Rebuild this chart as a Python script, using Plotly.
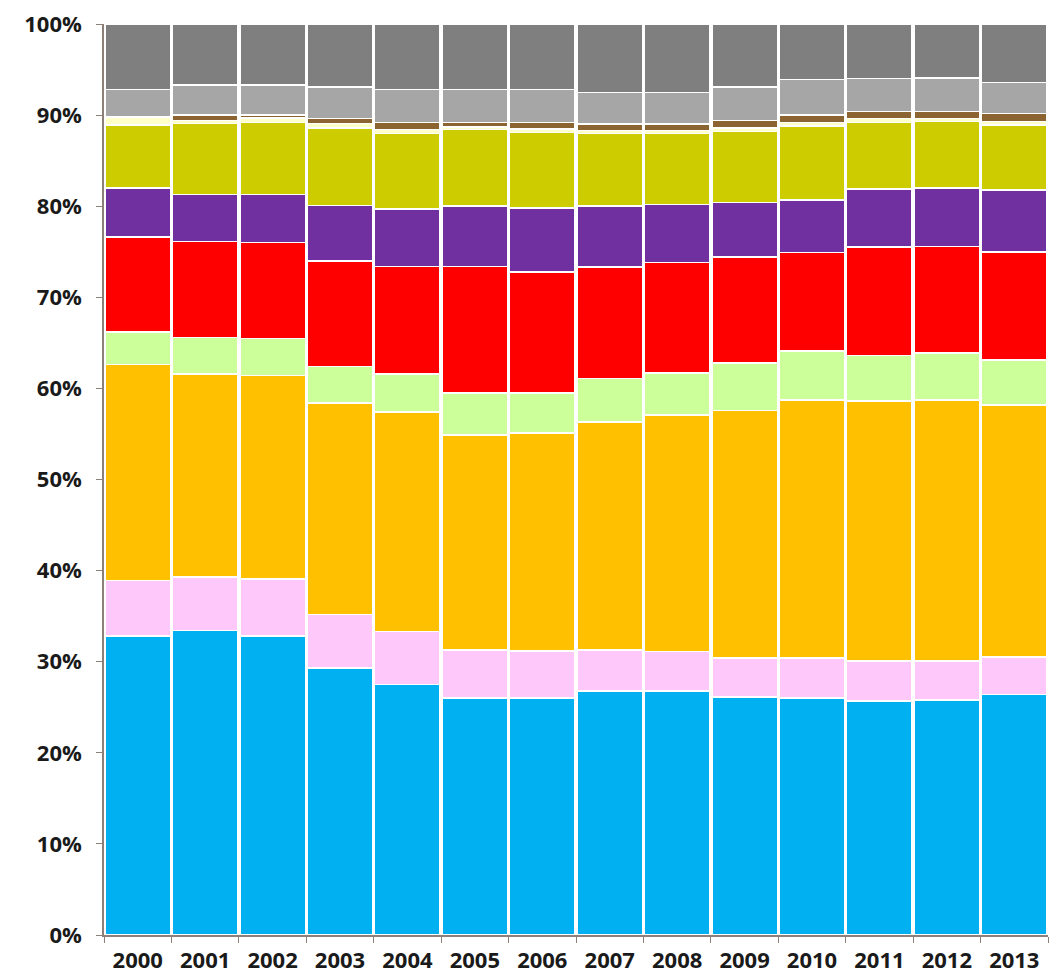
import plotly.graph_objects as go

years = [str(y) for y in range(2000, 2014)]

blue   = [32.8, 33.4, 32.8, 29.3, 27.5, 26.0, 26.0, 26.8, 26.8, 26.1, 26.0, 25.7, 25.8, 26.4]
pink   = [6.1, 5.9, 6.3, 5.9, 5.8, 5.3, 5.2, 4.5, 4.3, 4.3, 4.4, 4.4, 4.3, 4.1]
orange = [23.7, 22.3, 22.3, 23.2, 24.1, 23.6, 23.9, 25.0, 26.0, 27.2, 28.3, 28.5, 28.6, 27.7]
lgreen = [3.6, 4.0, 4.1, 4.0, 4.2, 4.6, 4.4, 4.8, 4.6, 5.2, 5.4, 5.0, 5.2, 4.9]
red    = [10.4, 10.5, 10.5, 11.6, 11.8, 13.9, 13.3, 12.2, 12.1, 11.6, 10.8, 11.9, 11.7, 11.9]
purple = [5.4, 5.2, 5.3, 6.1, 6.3, 6.6, 7.0, 6.7, 6.4, 6.0, 5.8, 6.4, 6.4, 6.8]
olive  = [6.9, 7.8, 7.9, 8.5, 8.3, 8.4, 8.3, 8.0, 7.8, 7.8, 8.1, 7.3, 7.3, 7.1]
cream  = [0.9, 0.3, 0.5, 0.5, 0.4, 0.3, 0.4, 0.3, 0.3, 0.4, 0.4, 0.4, 0.3, 0.4]
brown  = [0.0, 0.6, 0.3, 0.5, 0.8, 0.5, 0.7, 0.7, 0.7, 0.8, 0.8, 0.8, 0.8, 0.9]
lgray  = [3.0, 3.3, 3.3, 3.5, 3.6, 3.6, 3.6, 3.5, 3.5, 3.7, 3.9, 3.6, 3.7, 3.4]
dgray  = [7.2, 6.7, 6.7, 6.9, 7.2, 7.2, 7.2, 7.5, 7.5, 6.9, 6.1, 6.0, 5.9, 6.4]

series = [
    ("blue", blue, "#00B0F0"),
    ("pink", pink, "#FFC8FA"),
    ("orange", orange, "#FFC000"),
    ("lgreen", lgreen, "#CCFF99"),
    ("red", red, "#FF0000"),
    ("purple", purple, "#7030A0"),
    ("olive", olive, "#CCCC00"),
    ("cream", cream, "#FFFFC8"),
    ("brown", brown, "#8B6432"),
    ("lgray", lgray, "#A6A6A6"),
    ("dgray", dgray, "#7F7F7F"),
]

fig = go.Figure()
for name, vals, col in series:
    fig.add_trace(go.Bar(
        x=years, y=vals, name=name,
        marker=dict(color=col, line=dict(color="white", width=1.5)),
        hoverinfo="skip",
    ))

axis_col = "#8C8078"
tick_font = dict(family="Open Sans", size=22, color="#1a1a1a", weight="bold")
fig.update_layout(
    barmode="stack",
    bargap=0.03,
    width=1049, height=980,
    margin=dict(l=104, r=1, t=24, b=45),
    plot_bgcolor="white",
    paper_bgcolor="white",
    showlegend=False,
    font=dict(family="Open Sans", size=22, color="#1a1a1a"),
    xaxis=dict(
        type="category",
        automargin=False,
        showline=True, linecolor=axis_col, linewidth=1.5,
        ticks="outside", tickson="boundaries", ticklen=6, tickcolor=axis_col,
        tickfont=tick_font,
        ticklabelstandoff=5,
        showgrid=False,
        range=[-0.5, 13.5],
    ),
    yaxis=dict(
        range=[0, 100],
        automargin=False,
        tickvals=[0, 10, 20, 30, 40, 50, 60, 70, 80, 90, 100],
        ticktext=[f"{v}%" for v in range(0, 101, 10)],
        showline=True, linecolor=axis_col, linewidth=1.5,
        ticks="outside", ticklen=6, tickcolor=axis_col,
        tickfont=tick_font,
        ticklabelstandoff=10,
        showgrid=False, zeroline=False,
    ),
)

fig.write_html(
    "out.html",
    config={"displayModeBar": False},
    post_script="document.body.style.margin='0';document.body.style.overflow='hidden';",
)
